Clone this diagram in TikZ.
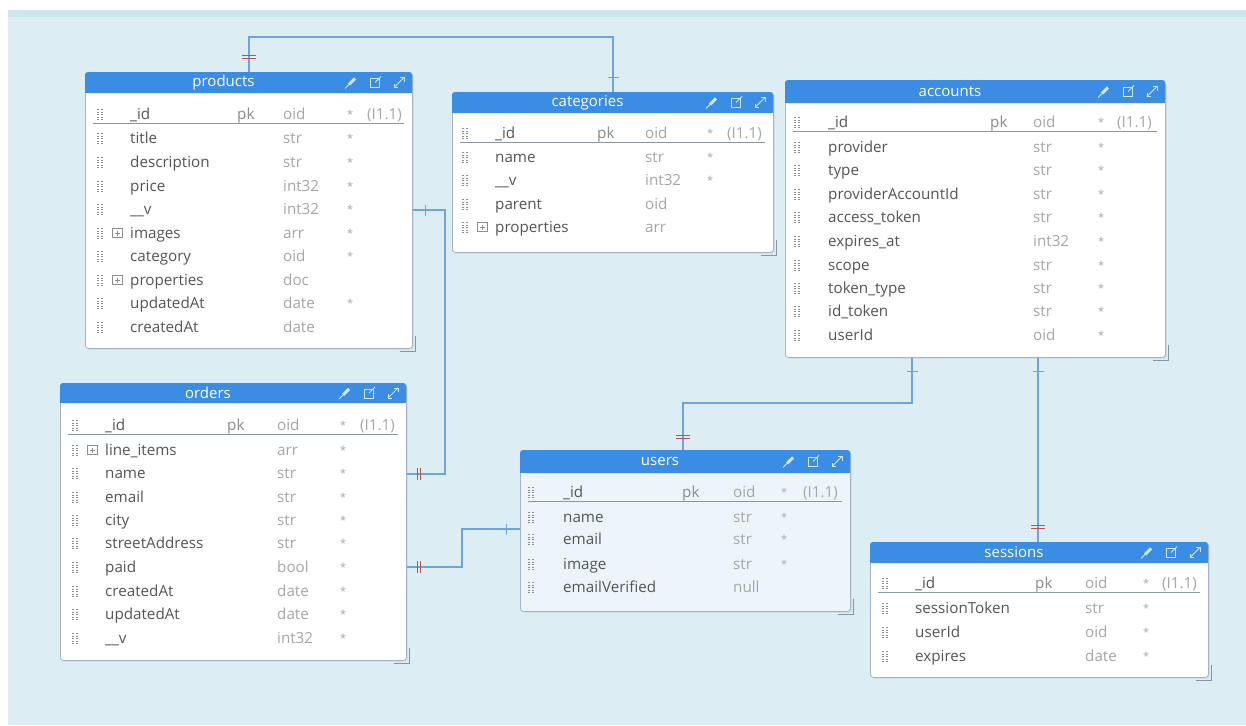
\documentclass[tikz,border=0pt]{standalone}
\usepackage{fontspec}
\setmainfont{Open Sans}
\usetikzlibrary{calc,shadows}
\definecolor{bgblue}{HTML}{DDEDF4}
\definecolor{bandc}{HTML}{CCE8EE}
\definecolor{hdrc}{HTML}{3B8DE3}
\definecolor{bordc}{HTML}{A3B4C4}
\definecolor{connc}{HTML}{6EA4DA}
\definecolor{redc}{HTML}{C0504D}
\definecolor{namec}{HTML}{555555}
\definecolor{typec}{HTML}{A6A6A6}
\definecolor{pkc}{HTML}{8C8C8C}
\definecolor{gripc}{HTML}{8E8E8E}
\definecolor{iconc}{HTML}{D2E6FB}
\definecolor{ulc}{HTML}{8A96A6}
\definecolor{userbody}{HTML}{EEF5FA}
\definecolor{rszc}{HTML}{8595A5}

\tikzset{
  tbody/.style={draw=bordc, line width=0.8pt, rounded corners=3pt, inner sep=0pt,
    drop shadow={opacity=0.12, shadow xshift=1.5pt, shadow yshift=-1.5pt}},
  ttl/.style={text=white, font=\fontsize{15}{16}\selectfont, inner sep=0pt},
  fname/.style={anchor=base west, text=namec, font=\fontsize{15.2}{16}\selectfont, inner sep=0pt},
  ftype/.style={anchor=base west, text=typec, font=\fontsize{15.2}{16}\selectfont, inner sep=0pt},
  fpk/.style={anchor=base west, text=pkc, font=\fontsize{15.2}{16}\selectfont, inner sep=0pt},
  fstar/.style={anchor=base west, text=typec, font=\fontsize{11}{12}\selectfont, inner sep=0pt},
  grip/.style={draw=gripc, line width=1.3pt, dash pattern=on 1.3pt off 1.2pt},
  conn/.style={draw=connc, line width=1.2pt},
  btick/.style={draw=connc, line width=1pt},
  rtick/.style={draw=redc, line width=1pt},
  icon/.style={draw=iconc, line width=1pt},
  uline/.style={draw=ulc, line width=0.9pt},
  rsz/.style={draw=rszc, line width=1pt},
  plusbox/.style={draw=gripc, line width=0.6pt}
}

\newcommand\tbl[8]{%
  \node[tbody, fill=#8, anchor=north west, minimum width={(#4-#2)*1pt}, minimum height={(#5-#3)*1pt}] (#1) at (#2,#3) {};
  \fill[hdrc, rounded corners=3pt] (#2,#3) rectangle (#4,#6);
  \fill[hdrc] (#2,{#6-4}) rectangle (#4,#6);
  \node[ttl] (#1-title) at ({(#2+#4-50)/2},{(#3+#6)/2}) {#7};
  \draw[iconc, line width=3pt] ({#4-63},{(#3+#6)/2+2}) -- ({#4-57},{(#3+#6)/2-4});
  \draw[icon] ({#4-67},{(#3+#6)/2+6}) -- ({#4-62},{(#3+#6)/2+1});
  \draw[icon] ({#4-42},{(#3+#6)/2-4}) rectangle ({#4-33},{(#3+#6)/2+5});
  \draw[icon] ({#4-37},{(#3+#6)/2}) -- ({#4-31},{(#3+#6)/2-6});
  \draw[icon] ({#4-18},{(#3+#6)/2+5}) -- ({#4-8},{(#3+#6)/2-5});
  \draw[icon] ({#4-12},{(#3+#6)/2-5}) -- ({#4-8},{(#3+#6)/2-5}) -- ({#4-8},{(#3+#6)/2-1});
  \draw[icon] ({#4-18},{(#3+#6)/2+1}) -- ({#4-18},{(#3+#6)/2+5}) -- ({#4-14},{(#3+#6)/2+5});
  \draw[rsz] ({#4+3},{#5-12}) -- ({#4+3},{#5+3}) -- ({#4-12},{#5+3});
  \def\cL{#2}\def\cR{#4}\def\tn{#1}%
}
\newcommand\cols[6]{\def\cg{#1}\def\cn{#2}\def\cp{#3}\def\ct{#4}\def\cs{#5}\def\ci{#6}}
\newcommand\frow[5]{%
  \draw[grip] ({\cg-2},{#1-5}) -- ({\cg-2},{#1+6});
  \draw[grip] ({\cg+2},{#1-5}) -- ({\cg+2},{#1+6});
  \node[fname] (\tn-#1) at (\cn,{#1+5}) {#2};
  \node[ftype] (\tn-#1-t) at (\ct,{#1+5}) {#3};
  \node[fstar] (\tn-#1-s) at (\cs,{#1+4}) {#4};
  \ifx\relax#5\relax\else
    \draw[plusbox] ({\cn-18},{#1-4.5}) rectangle ({\cn-8},{#1+4.5});
    \draw[plusbox] ({\cn-15.5},{#1}) -- ({\cn-10.5},{#1}) ({\cn-13},{#1-2.5}) -- ({\cn-13},{#1+2.5});
  \fi
}
\newcommand\idrow[1]{%
  \frow{#1}{\_id}{oid}{*}{}
  \node[fpk] (\tn-#1-pk) at (\cp,{#1+5}) {pk};
  \node[ftype] (\tn-#1-card) at (\ci,{#1+5}) {(I1.1)};
  \draw[uline] ({\cL+8},{#1+9}) -- ({\cR-8},{#1+9});
}
\newcommand\vbt[2]{\draw[btick] (#1,{#2-5.5}) -- (#1,{#2+5.5});}
\newcommand\hbt[2]{\draw[btick] ({#1-5.5},#2) -- ({#1+5.5},#2);}
\newcommand\vrt[2]{\draw[rtick] ({#1-1.2},{#2-6}) -- ({#1-1.2},{#2+6}) ({#1+1.2},{#2-6}) -- ({#1+1.2},{#2+6});}
\newcommand\hrt[2]{\draw[rtick] ({#1-7},{#2-1.2}) -- ({#1+7},{#2-1.2}) ({#1-7},{#2+1.2}) -- ({#1+7},{#2+1.2});}

\begin{document}
\begin{tikzpicture}[x=1pt,y=-1pt]
\useasboundingbox (0,0) rectangle (1246,725);
\fill[white] (0,0) rectangle (1246,725);
\fill[bgblue] (8,10) rectangle (1246,725);
\fill[bandc] (8,10) rectangle (1246,17);

% ---------- tables ----------
\tbl{products}{85}{72}{412}{348}{93}{products}{white}
\cols{100}{130}{237}{283}{347}{367}
\idrow{114}
\frow{138}{title}{str}{*}{}
\frow{162}{description}{str}{*}{}
\frow{186}{price}{int32}{*}{}
\frow{209}{\_\_v}{int32}{*}{}
\frow{233}{images}{arr}{*}{x}
\frow{256}{category}{oid}{*}{}
\frow{280}{properties}{doc}{}{x}
\frow{303}{updatedAt}{date}{*}{}
\frow{327}{createdAt}{date}{}{}

\tbl{categories}{452}{92}{773}{252}{113}{categories}{white}
\cols{465}{495}{597}{645}{707}{727}
\idrow{133}
\frow{157}{name}{str}{*}{}
\frow{180}{\_\_v}{int32}{*}{}
\frow{204}{parent}{oid}{}{}
\frow{227}{properties}{arr}{}{x}

\tbl{accounts}{785}{80}{1165}{357}{103}{accounts}{white}
\cols{797}{828}{990}{1033}{1098}{1117}
\idrow{122}
\frow{147}{provider}{str}{*}{}
\frow{170}{type}{str}{*}{}
\frow{194}{providerAccountId}{str}{*}{}
\frow{217}{access\_token}{str}{*}{}
\frow{241}{expires\_at}{int32}{*}{}
\frow{265}{scope}{str}{*}{}
\frow{288}{token\_type}{str}{*}{}
\frow{311}{id\_token}{str}{*}{}
\frow{335}{userId}{oid}{*}{}

\tbl{orders}{60}{383}{406}{660}{403}{orders}{white}
\cols{75}{105}{227}{277}{340}{360}
\idrow{425}
\frow{450}{line\_items}{arr}{*}{x}
\frow{473}{name}{str}{*}{}
\frow{497}{email}{str}{*}{}
\frow{520}{city}{str}{*}{}
\frow{543}{streetAddress}{str}{*}{}
\frow{567}{paid}{bool}{*}{}
\frow{591}{createdAt}{date}{*}{}
\frow{614}{updatedAt}{date}{*}{}
\frow{638}{\_\_v}{int32}{*}{}

\tbl{users}{520}{450}{850}{611}{473}{users}{userbody}
\cols{531}{563}{682}{733}{781}{803}
\idrow{492}
\frow{517}{name}{str}{*}{}
\frow{539}{email}{str}{*}{}
\frow{564}{image}{str}{*}{}
\frow{587}{emailVerified}{null}{}{}

\tbl{sessions}{870}{542}{1208}{677}{563}{sessions}{white}
\cols{885}{915}{1035}{1085}{1143}{1162}
\idrow{583}
\frow{608}{sessionToken}{str}{*}{}
\frow{632}{userId}{oid}{*}{}
\frow{656}{expires}{date}{*}{}

% ---------- connectors ----------
\coordinate (k1) at (249,37);
\coordinate (k1b) at (613,37);
\draw[conn] (products.north -| k1) -- (k1) -- (k1b) -- (categories.north -| k1b);
\hrt{249}{57}
\hbt{613}{77}

\coordinate (k2) at (445,210);
\coordinate (k2b) at (445,474);
\draw[conn] (products.east |- k2) -- (k2) -- (k2b) -- (orders.east |- k2b);
\vbt{425}{210}
\vrt{419}{474}

\coordinate (k3) at (462,567);
\coordinate (k3b) at (462,529);
\draw[conn] (orders.east |- k3) -- (k3) -- (k3b) -- (users.west |- k3b);
\vrt{419}{567}
\vbt{506}{529}

\coordinate (k4) at (912,403);
\coordinate (k4b) at (683,403);
\draw[conn] (accounts.south -| k4) -- (k4) -- (k4b) -- (users.north -| k4b);
\hbt{912}{371}
\hrt{683}{437}

\coordinate (k5) at (1038,450);
\draw[conn] (accounts.south -| k5) -- (sessions.north -| k5);
\hbt{1038}{371}
\hrt{1038}{527}
\end{tikzpicture}
\end{document}
